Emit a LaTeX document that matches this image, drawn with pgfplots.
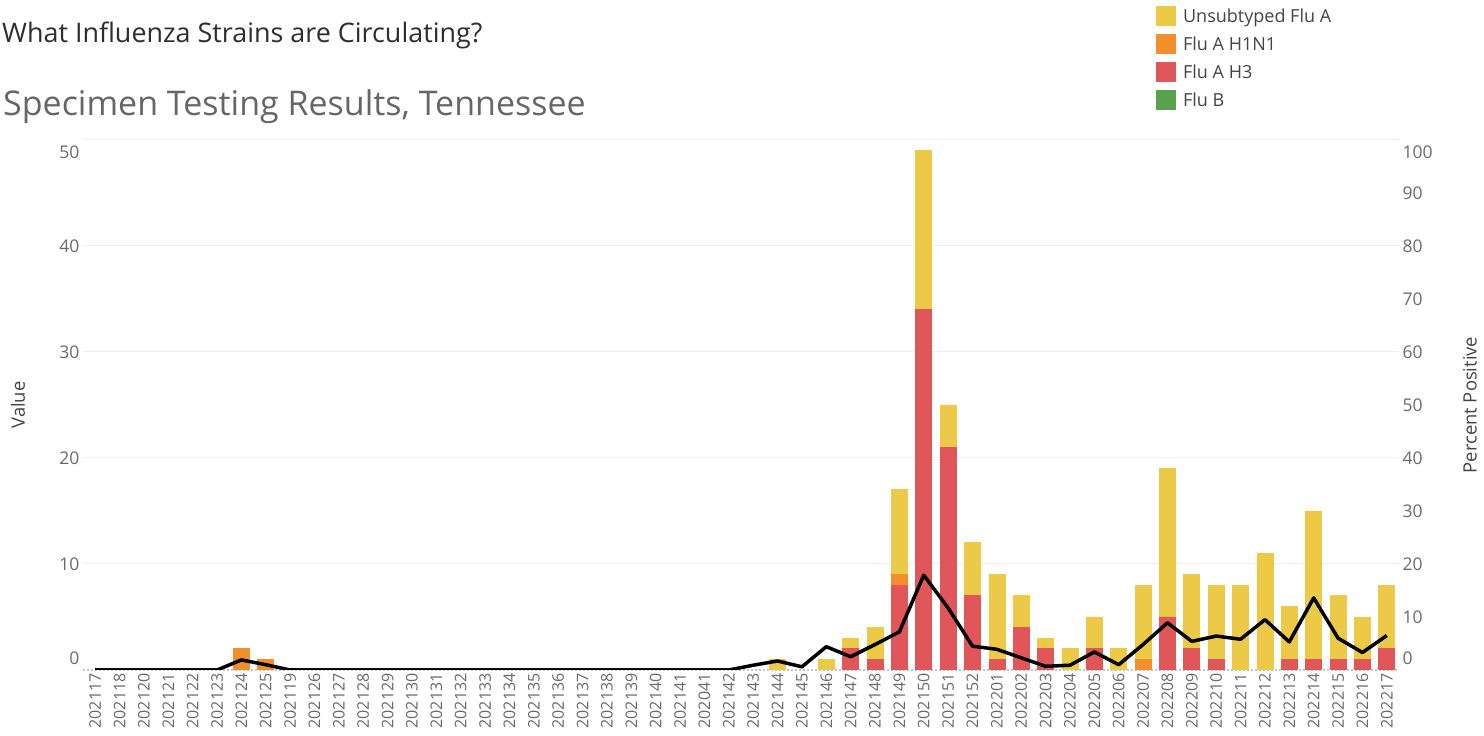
\documentclass[border=0pt]{standalone}
\usepackage{fontspec}
\setmainfont{Open Sans}
\usepackage{pgfplots}
\usepackage{pgfplotstable}
\pgfplotsset{compat=1.18}

\definecolor{unsub}{HTML}{EDC948}
\definecolor{hone}{HTML}{F28E2B}
\definecolor{hthree}{HTML}{E15759}
\definecolor{flub}{HTML}{59A14F}
\definecolor{ticktext}{HTML}{6A6A6A}
\definecolor{titleone}{HTML}{2E2E2E}
\definecolor{titletwo}{HTML}{666666}
\definecolor{labtext}{HTML}{444444}
\definecolor{gridc}{HTML}{EEEEEE}

% stacked specimen counts, only weeks that have results
\pgfplotstableread{
x  B  H3  H1N1  Unsub
0  0  0   0     0
6  0  0   2     0
7  0  0   1     0
27 0  0   0     0
28 0  0   0     1
29 0  0   0     0
30 0  0   0     1
31 0  2   0     1
32 0  1   0     3
33 0  8   1     8
34 0  34  0     15
35 0  21  0     4
36 0  7   0     5
37 0  1   0     8
38 0  4   0     3
39 0  2   0     1
40 0  0   0     2
41 0  2   0     3
42 0  0   0     2
43 0  0   1     7
44 0  5   0     14
45 0  2   0     7
46 0  1   0     7
47 0  0   0     8
48 0  0   0     11
49 0  1   0     5
50 0  1   0     14
51 0  1   0     6
52 0  1   0     4
53 0  2   0     6
}\bars

% percent positive, every week
\pgfplotstableread{
x  pct
0  0
1  0
2  0
3  0
4  0
5  0
6  1.9
7  1.0
8  0
9  0
10 0
11 0
12 0
13 0
14 0
15 0
16 0
17 0
18 0
19 0
20 0
21 0
22 0
23 0
24 0
25 0
26 0
27 0.9
28 1.7
29 0.6
30 4.4
31 2.5
32 4.8
33 7.2
34 17.9
35 11.7
36 4.5
37 3.9
38 2.3
39 0.7
40 0.9
41 3.4
42 1.0
43 4.8
44 8.9
45 5.4
46 6.4
47 5.8
48 9.5
49 5.3
50 13.6
51 6.0
52 3.3
53 6.5
}\pct

\begin{document}
\begin{tikzpicture}[x=1pt,y=1pt]
\useasboundingbox (0,0) rectangle (1484,736);

\node[anchor=west, inner sep=0, text=titleone, font=\fontsize{26.9}{31}\selectfont] at (2,701) {What Influenza Strains are Circulating?};
\node[anchor=west, inner sep=0, text=titletwo, font=\fontsize{34}{40}\selectfont] at (3,629) {Specimen Testing Results, Tennessee};

\begin{axis}[
    at={(83pt,66pt)}, anchor=south west,
    scale only axis, width=1316pt, height=530pt,
    xmin=-0.5, xmax=53.5, ymin=0, ymax=50,
    ybar stacked, bar width=16pt,
    axis line style={draw=none}, major tick length=0pt,
    xtick={0,...,53},
    xticklabels={202117,202118,202120,202121,202122,202123,202124,202125,202119,
        202126,202127,202128,202129,202130,202131,202132,202133,202134,202135,
        202136,202137,202138,202139,202140,202141,202041,202142,202143,202144,
        202145,202146,202147,202148,202149,202150,202151,202152,202201,202202,
        202203,202204,202205,202206,202207,202208,202209,202210,202211,202212,
        202213,202214,202215,202216,202217},
    x tick label style={rotate=90, anchor=east, text=ticktext, font=\fontsize{16}{18}\selectfont},
    ytick={10,20,30,40,50},
    yticklabels={10,20,30,40,\raisebox{-12pt}[\height][\depth]{50}},
    extra y ticks={0},
    extra y tick labels={\raisebox{12pt}[\height][\depth]{0}},
    extra y tick style={grid=major, major grid style={gray!45, dash pattern=on 2pt off 2pt, line width=1.2pt}},
    y tick label style={text=ticktext, font=\fontsize{17.5}{20}\selectfont},
    ymajorgrids, major grid style={gridc, line width=1pt},
    ylabel={Value},
    ylabel style={at={(axis description cs:-0.0494,0.5)}, anchor=center, rotate=0, text=labtext, font=\fontsize{18.4}{21}\selectfont},
    reverse legend,
    legend cell align=left,
    legend style={at={(0.8153,1.2528)}, anchor=north west, draw=none, fill=none,
        inner sep=0pt, row sep=8pt, text=labtext, font=\fontsize{18}{21}\selectfont,
        /tikz/every odd column/.append style={column sep=5pt}},
    legend image code/.code={\fill[#1, draw=none] (0pt,-10pt) rectangle (20pt,10pt);},
]
\addplot[fill=flub, draw=flub, line width=0.7pt] table[x=x, y=B] {\bars};
\addplot[fill=hthree, draw=hthree, line width=0.7pt] table[x=x, y=H3] {\bars};
\addplot[fill=hone, draw=hone, line width=0.7pt] table[x=x, y=H1N1] {\bars};
\addplot[fill=unsub, draw=unsub, line width=0.7pt] table[x=x, y=Unsub] {\bars};
\legend{Flu B, Flu A H3, Flu A H1N1, Unsubtyped Flu A}
\end{axis}

\begin{axis}[
    at={(83pt,66pt)}, anchor=south west,
    scale only axis, width=1316pt, height=530pt,
    xmin=-0.5, xmax=53.5, ymin=0, ymax=100,
    axis y line*=right, hide x axis,
    axis line style={draw=none}, major tick length=0pt,
    ytick={0,10,...,100},
    yticklabels={\raisebox{12pt}[\height][\depth]{0},10,20,30,40,50,60,70,80,90,\raisebox{-12pt}[\height][\depth]{100}},
    y tick label style={text=ticktext, font=\fontsize{17.5}{20}\selectfont},
    ylabel={Percent Positive},
    ylabel style={at={(axis description cs:1.054,0.5)}, anchor=center, rotate=0, text=labtext, font=\fontsize{18.4}{21}\selectfont},
]
\addplot[black, line width=3.5pt, line join=round, no markers] table[x=x, y=pct] {\pct};
\end{axis}
\end{tikzpicture}
\end{document}
